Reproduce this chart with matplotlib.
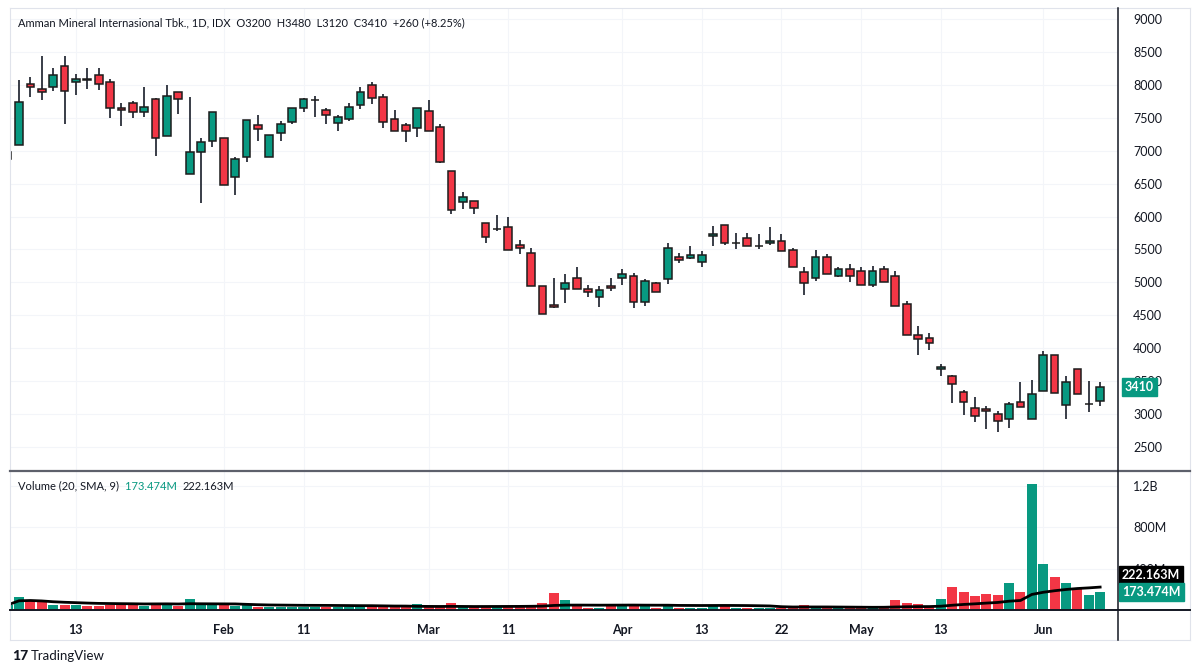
import numpy as np
import pandas as pd
import matplotlib
matplotlib.use("Agg")
import matplotlib.pyplot as plt
from matplotlib.lines import Line2D

plt.rcParams['font.family'] = ['Lato', 'DejaVu Sans']

# daily candles, first one is cut by the left edge
opens = [6880, 7090, 8010, 7930, 7960, 8290, 8040, 8080, 8145, 8040,
         7645, 7720, 7585, 7790, 7230, 7890, 6645, 6985, 7150, 7190,
         6595, 6910, 7395, 6900, 7265, 7440, 7645, 7765, 7615, 7415,
         7485, 7690, 8000, 7820, 7480, 7395, 7340, 7610, 7365, 6690,
         6225, 6235, 5900, 5805, 5845, 5570, 5450, 4950, 4655, 4895,
         5060, 4895, 4775, 4950, 5060, 5095, 4700, 4985, 5050, 5390,
         5375, 5315, 5700, 5870, 5595, 5670, 5550, 5595, 5635, 5490,
         5165, 5060, 5390, 5100, 5200, 5175, 4955, 5200, 5095, 4665,
         4200, 4150, 3680, 3580, 3330, 3095, 3075, 2995, 2930, 3190,
         2925, 3355, 3900, 3135, 3680, 3150, 3200]
highs = [6990, 8080, 8115, 8440, 8250, 8440, 8165, 8250, 8250, 8085,
         7720, 7755, 7970, 7800, 8000, 7890, 7820, 7190, 7595, 7190,
         6910, 7470, 7540, 7235, 7450, 7645, 7800, 7830, 7645, 7540,
         7720, 7965, 8040, 7860, 7620, 7415, 7645, 7770, 7405, 6690,
         6370, 6235, 5900, 6025, 6000, 5645, 5520, 4950, 5070, 5130,
         5240, 4965, 4950, 5060, 5200, 5140, 5050, 5000, 5595, 5450,
         5555, 5480, 5855, 5875, 5745, 5745, 5730, 5845, 5735, 5520,
         5240, 5490, 5425, 5240, 5280, 5240, 5250, 5255, 5180, 4720,
         4340, 4235, 3760, 3595, 3365, 3255, 3125, 3050, 3190, 3490,
         3520, 3960, 3900, 3580, 3680, 3505, 3480]
lows = [6870, 7090, 7810, 7770, 7900, 7405, 7845, 7940, 7925, 7490,
        7375, 7490, 7515, 6920, 7230, 7555, 6645, 6200, 7060, 6475,
        6320, 6835, 7150, 6900, 7150, 7405, 7590, 7515, 7405, 7305,
        7455, 7630, 7705, 7340, 7300, 7135, 7205, 7300, 6810, 6035,
        6110, 6035, 5605, 5785, 5490, 5430, 4950, 4515, 4605, 4685,
        4895, 4785, 4630, 4875, 4960, 4605, 4645, 4850, 4975, 5290,
        5350, 5240, 5555, 5570, 5505, 5550, 5505, 5570, 5480, 5230,
        4810, 5025, 5130, 5075, 5000, 4955, 4935, 5000, 4645, 4200,
        3895, 3975, 3585, 3165, 2985, 2885, 2770, 2735, 2785, 3105,
        2925, 3355, 3315, 2925, 3300, 3035, 3120]
closes = [6985, 7740, 7960, 7890, 8145, 7905, 8085, 8075, 8010, 7645,
          7615, 7585, 7660, 7190, 7835, 7790, 6985, 7135, 7590, 6475,
          6870, 7465, 7335, 7235, 7410, 7645, 7790, 7770, 7545, 7505,
          7660, 7890, 7795, 7440, 7300, 7300, 7645, 7300, 6825, 6100,
          6295, 6125, 5695, 5810, 5490, 5520, 4950, 4515, 4620, 4995,
          4895, 4850, 4880, 4920, 5130, 4700, 5020, 4860, 5520, 5345,
          5420, 5420, 5730, 5595, 5600, 5555, 5555, 5635, 5480, 5230,
          4995, 5390, 5130, 5200, 5095, 4955, 5175, 5000, 4645, 4200,
          4135, 4075, 3710, 3455, 3180, 2975, 3045, 2900, 3150, 3105,
          3300, 3900, 3315, 3490, 3300, 3150, 3410]
# volume in millions of shares
volumes = [49, 129, 98, 75, 49, 49, 49, 39, 39, 49,
           49, 49, 39, 65, 65, 39, 105, 49, 49, 49,
           42, 49, 26, 26, 26, 26, 26, 32, 32, 32,
           32, 32, 32, 32, 32, 32, 55, 32, 39, 65,
           32, 32, 32, 32, 32, 32, 49, 65, 160, 95,
           39, 23, 23, 39, 39, 39, 39, 23, 39, 23,
           23, 23, 39, 39, 23, 16, 16, 23, 16, 39,
           46, 23, 23, 23, 23, 23, 20, 30, 95, 65,
           55, 28, 110, 225, 176, 137, 157, 147, 262, 176,
           1216, 441, 323, 262, 212, 147, 173.474]

date_pos = [5, 18, 25, 36, 43, 53, 60, 67, 74, 81, 90]
date_labels = ['13', 'Feb', '11', 'Mar', '11', 'Apr', '13', '22', 'May', '13', 'Jun']
price_ticks = [2500, 3000, 3500, 4000, 4500, 5000, 5500, 6000, 6500, 7000, 7500, 8000, 8500, 9000]
vol_ticks = [400, 800, 1200]
vol_tick_labels = ['400M', '800M', '1.2B']

title = "Amman Mineral Internasional Tbk., 1D, IDX  O3200  H3480  L3120  C3410  +260 (+8.25%)"

UP = '#089981'
DOWN = '#F23645'
TXT = '#131722'
GRID = '#f3f5f9'

o = np.array(opens, float)
h = np.array(highs, float)
l = np.array(lows, float)
c = np.array(closes, float)
v = np.array(volumes, float)
x = np.arange(len(o)) - 1
up = c >= o
cols = np.where(up, UP, DOWN)
sma = pd.Series(v).rolling(20, min_periods=1).mean()

W, H = 1199, 671
fig = plt.figure(figsize=(W / 100, H / 100), dpi=100)
fig.patch.set_facecolor('white')

def fx(px):
    return px / W

def fy(py):
    return 1 - py / H

ax = fig.add_axes([fx(10), fy(470), fx(1118) - fx(10), fy(8) - fy(470)])
axv = fig.add_axes([fx(10), fy(610), fx(1118) - fx(10), fy(471) - fy(610)], sharex=ax)

xmin, xmax = -0.79, 96.57

# candles
ax.vlines(x, l, h, color='#2a2e39', linewidth=1.3, zorder=2)
body_lo = np.minimum(o, c)
body_h = np.maximum(np.abs(c - o), 8)
ax.bar(x, body_h, bottom=body_lo, width=0.68, color=cols, edgecolor='#1c1c1c',
       linewidth=1.1, zorder=3)
ax.set_xlim(xmin, xmax)
ax.set_ylim(2151, 9167)

# volume
axv.bar(x, v, width=0.88, color=cols, linewidth=0, zorder=2)
axv.plot(x, sma, color='black', linewidth=2, zorder=3)
axv.set_ylim(0, 1346)

for a in (ax, axv):
    for s in a.spines.values():
        s.set_visible(False)
    a.yaxis.tick_right()
    a.tick_params(axis='y', length=0, pad=11, labelsize=9, labelcolor=TXT)
    a.tick_params(axis='x', length=0)
    a.set_xticks(date_pos)
    a.grid(True, color=GRID, linewidth=0.8)
    a.set_axisbelow(True)

ax.set_yticks(price_ticks)
ax.set_yticklabels([str(t) for t in price_ticks])
ax.tick_params(axis='x', labelbottom=False)
axv.set_yticks(vol_ticks)
axv.set_yticklabels(vol_tick_labels)
axv.set_xticklabels(date_labels)
axv.tick_params(axis='x', pad=10, labelsize=9, labelcolor=TXT)
for t in axv.get_xticklabels():
    t.set_fontweight('bold')

# header texts
ax.text(0.0075, 0.968, title, transform=ax.transAxes, fontsize=8, color=TXT,
        va='center', ha='left')
t1 = axv.text(0.0075, 0.895, "Volume (20, SMA, 9)  ", transform=axv.transAxes,
              fontsize=8, color=TXT, va='center', ha='left')
fig.canvas.draw()
bb = t1.get_window_extent()
t2 = fig.text(bb.x1 / W, fy(486), "173.474M  ", fontsize=8, color=UP, va='center')
fig.canvas.draw()
bb2 = t2.get_window_extent()
fig.text(bb2.x1 / W, fy(486), "222.163M", fontsize=8, color=TXT, va='center')

# last value tags on the price scale
ax.annotate(str(closes[-1]), xy=(1.0, closes[-1]), xycoords=('axes fraction', 'data'),
            xytext=(5, 0), textcoords='offset points', va='center', ha='left',
            fontsize=9, fontweight='bold', color='white', zorder=10,
            bbox=dict(boxstyle='square,pad=0.25', fc=UP, ec=UP))
axv.annotate("222.163M", xy=(1.0, 0), xycoords=('axes fraction', 'axes fraction'),
             xytext=(4, 35), textcoords='offset pixels', va='center', ha='left',
             fontsize=9, fontweight='bold', color='white', zorder=10,
             bbox=dict(boxstyle='square,pad=0.25', fc='black', ec='black'))
axv.annotate("173.474M", xy=(1.0, 0), xycoords=('axes fraction', 'axes fraction'),
             xytext=(4, 18), textcoords='offset pixels', va='center', ha='left',
             fontsize=9, fontweight='bold', color='white', zorder=10,
             bbox=dict(boxstyle='square,pad=0.25', fc=UP, ec=UP))

# frame lines
def hline(py, x0, x1, color, lw):
    fig.add_artist(Line2D([fx(x0), fx(x1)], [fy(py), fy(py)], color=color, linewidth=lw))

def vline(px, y0, y1, color, lw):
    fig.add_artist(Line2D([fx(px), fx(px)], [fy(y0), fy(y1)], color=color, linewidth=lw))

hline(8, 10, 1190, '#e0e3eb', 0.8)
hline(640, 10, 1190, '#e0e3eb', 0.8)
vline(10, 8, 640, '#e0e3eb', 0.8)
vline(1190, 8, 640, '#e0e3eb', 0.8)
hline(470.5, 10, 1190, '#5d606b', 1.6)
hline(610, 10, 1190, '#131722', 1.4)
vline(1118, 8, 640, '#131722', 1.1)

# footer
fig.text(fx(12), fy(656), "17", fontsize=10, fontweight='black', color=TXT, va='center')
fig.text(fx(31), fy(656), "TradingView", fontsize=9.5, color=TXT, va='center')

fig.savefig('out.png', dpi=100, facecolor='white')
